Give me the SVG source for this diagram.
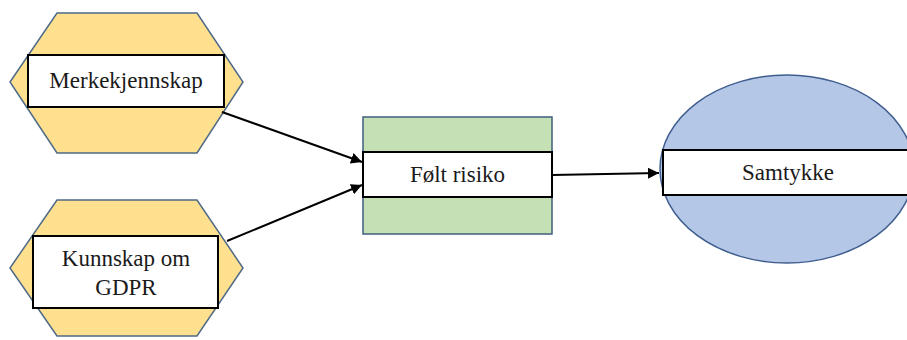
<svg xmlns="http://www.w3.org/2000/svg" width="907" height="340" viewBox="0 0 907 340">
  <style>
    .hex { fill: #FFE08F; stroke: #4E6A88; stroke-width: 1.5; }
    .box { fill: #C5E0B4; stroke: #3F5E7E; stroke-width: 1.5; }
    .oval { fill: #B4C7E7; stroke: #3F5E8E; stroke-width: 1.5; }
    .label { fill: #FFFFFF; stroke: #000000; stroke-width: 2; }
    .txt { font-size: 23px; fill: #1a1a1a; text-anchor: middle; }
    .edge { stroke: #000000; stroke-width: 2; fill: none; marker-end: url(#arrow); }
  </style>
  <defs>
    <marker id="arrow" viewBox="0 0 10 10" refX="10" refY="5" markerWidth="5.5" markerHeight="5.5" orient="auto" markerUnits="strokeWidth">
      <path d="M0,0 L10,5 L0,10 z" fill="#000000"/>
    </marker>
  </defs>
  <rect width="907" height="340" fill="#FFFFFF"/>

  <g font-family="'Liberation Serif', serif">
    <g id="node-merkekjennskap">
      <polygon class="hex" points="57,13 197,13 243,82 197,153 57,153 10,82"/>
      <rect class="label" x="28" y="55" width="196" height="52"/>
      <text class="txt" x="126" y="88">Merkekjennskap</text>
    </g>

    <g id="node-kunnskap">
      <polygon class="hex" points="57,200 197,200 243,268 197,336 57,336 10,268"/>
      <rect class="label" x="33" y="236" width="185" height="72"/>
      <text class="txt" x="126" y="266">Kunnskap om</text>
      <text class="txt" x="126" y="295">GDPR</text>
    </g>

    <g id="node-folt-risiko">
      <rect class="box" x="363" y="117" width="189" height="117"/>
      <rect class="label" x="363" y="152" width="189" height="45"/>
      <text class="txt" x="457.5" y="182">Følt risiko</text>
    </g>

    <g id="node-samtykke">
      <ellipse class="oval" cx="787" cy="169" rx="127" ry="94"/>
      <rect class="label" x="663" y="150" width="250" height="45"/>
      <text class="txt" x="788" y="180">Samtykke</text>
    </g>
  </g>

  <g id="connectors">
    <line class="edge" x1="222" y1="112" x2="362" y2="162"/>
    <line class="edge" x1="227" y1="241" x2="362" y2="185"/>
    <line class="edge" x1="552" y1="175" x2="659" y2="173"/>
  </g>
</svg>
